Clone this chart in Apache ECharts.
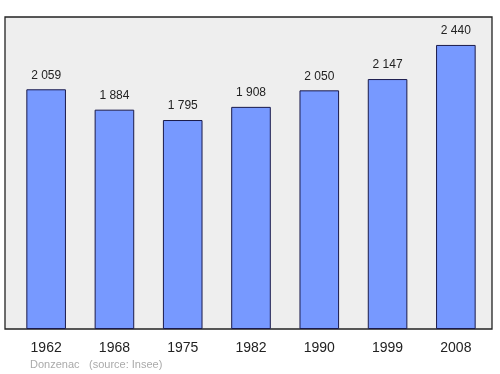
<!DOCTYPE html>
<html><head><meta charset="utf-8">
<script src="https://cdn.jsdelivr.net/npm/echarts@6/dist/echarts.min.js"></script>
<style>html,body{margin:0;padding:0;background:#fff}#c{width:500px;height:374px}</style>
</head><body><div id="c"></div>
<script>
const categories = ['1962','1968','1975','1982','1990','1999','2008'];
const population = [2059, 1884, 1795, 1908, 2050, 2147, 2440];
const valueLabels = ['2 059','1 884','1 795','1 908','2 050','2 147','2 440'];
const footerPlace = 'Donzenac';
const footerSource = '(source: Insee)';

const chart = echarts.init(document.getElementById('c'), null, {renderer:'canvas'});
chart.setOption({
  animation:false,
  backgroundColor:'#ffffff',
  textStyle:{fontFamily:'Liberation Sans, Arial, sans-serif'},
  grid:[
    {left:5, top:17, width:487, height:312, show:true, backgroundColor:'#eeeeee', borderColor:'#222222', borderWidth:1.3, z:0},
    {left:12, top:17, width:478, height:312, show:false}
  ],
  xAxis:[
    {gridIndex:0, type:'value', show:false, min:0, max:1},
    {gridIndex:1, type:'category', data:categories, boundaryGap:true,
     axisLine:{show:false}, axisTick:{show:false},
     axisLabel:{color:'#222', fontSize:14, margin:12, fontFamily:'Liberation Sans, Arial, sans-serif'}}
  ],
  yAxis:[
    {gridIndex:0, type:'value', show:false, min:0, max:1},
    {gridIndex:1, type:'value', min:0, max:2680, show:false, splitLine:{show:false}}
  ],
  series:[{
    type:'bar', xAxisIndex:1, yAxisIndex:1,
    data:population, barWidth:'58%',
    itemStyle:{color:'#7799ff', borderColor:'#1a1a4a', borderWidth:1},
    label:{show:true, position:'top', distance:8, color:'#222', fontSize:12,
      fontFamily:'Liberation Sans, Arial, sans-serif',
      formatter:p=>valueLabels[p.dataIndex]}
  }],
  graphic:[
    {type:'text', left:30, top:359, style:{text:footerPlace, fill:'#aaaaaa', font:'11px Liberation Sans, Arial, sans-serif'}},
    {type:'text', left:89, top:359, style:{text:footerSource, fill:'#aaaaaa', font:'11px Liberation Sans, Arial, sans-serif'}}
  ]
});
</script></body></html>
